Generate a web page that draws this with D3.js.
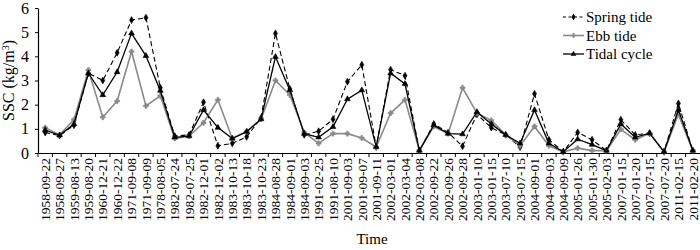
<!DOCTYPE html>
<html>
<head>
<meta charset="utf-8">
<script src="https://cdn.jsdelivr.net/npm/d3@7"></script>
<style>
  body { margin: 0; background: #fff; }
  svg text { font-family: "Liberation Serif", "Times New Roman", serif; fill: #000; }
</style>
</head>
<body>
<svg id="drawing_region"></svg>
<script>
const dates = ["1958-09-22","1958-09-27","1959-08-13","1959-08-20","1960-12-21","1960-12-22",
  "1971-09-08","1971-09-09","1978-08-05","1982-07-24","1982-07-25","1982-12-01","1982-12-02",
  "1983-10-13","1983-10-18","1983-10-23","1984-08-28","1984-09-01","1984-09-03","1991-02-25",
  "1991-08-10","2001-09-03","2001-09-07","2001-09-11","2002-03-01","2002-03-04","2002-03-08",
  "2002-09-22","2002-09-26","2002-09-28","2003-01-10","2003-01-15","2003-07-10","2003-07-15",
  "2004-09-01","2004-09-03","2004-09-09","2005-01-26","2005-01-30","2005-02-03","2007-01-15",
  "2007-01-20","2007-07-15","2007-07-20","2011-02-15","2011-02-20"];

const spring = [0.85,0.72,1.15,3.3,3.0,4.15,5.5,5.6,2.7,0.7,0.75,2.1,0.3,0.4,0.67,1.45,
  4.95,2.65,0.75,0.9,1.4,2.95,3.65,0.25,3.45,3.2,0.1,1.2,0.85,0.28,1.6,1.05,0.75,0.25,
  2.45,0.55,0.05,0.85,0.55,0.1,1.38,0.75,0.82,0.05,2.05,0.1];
const ebb = [1.05,0.75,1.38,3.43,1.48,2.15,4.2,1.95,2.37,0.6,0.7,1.25,2.2,0.6,0.9,1.4,
  3.0,2.4,0.85,0.4,0.8,0.8,0.62,0.25,1.65,2.2,0.1,1.1,0.8,2.7,1.65,1.35,0.75,0.3,
  1.1,0.3,0.05,0.2,0.1,0.1,0.98,0.55,0.82,0.05,1.6,0.1];
const tidal = [0.95,0.73,1.2,3.3,2.4,3.35,4.95,4.02,2.58,0.65,0.7,1.78,1.05,0.6,0.88,1.4,
  3.98,2.6,0.8,0.65,1.08,2.23,2.6,0.25,3.3,2.86,0.1,1.15,0.8,0.78,1.7,1.2,0.75,0.4,
  1.78,0.4,0.05,0.57,0.35,0.1,1.2,0.65,0.82,0.05,1.78,0.1];

const yTicks = [0,1,2,3,4,5,6];

const series = [
  { name: "Spring tide", values: spring, color: "#000", width: 1.1, dash: "5,3", symbol: d3.symbolDiamond, size: 14 },
  { name: "Ebb tide", values: ebb, color: "#8a8a8a", width: 1.6, dash: null, symbol: d3.symbolCross, size: 14 },
  { name: "Tidal cycle", values: tidal, color: "#000", width: 1.3, dash: null, symbol: d3.symbolTriangle, size: 14 }
];

const config = { width: 700, height: 250, left: 38, right: 700, top: 8, bottom: 153 };

const svg = d3.select("#drawing_region")
  .attr("width", config.width)
  .attr("height", config.height);

const xscale = d3.scaleBand()
  .domain(dates)
  .range([config.left, config.right])
  .padding(0);

const yscale = d3.scaleLinear()
  .domain([0, 6])
  .range([config.bottom, config.top]);

// x axis: labels at band centres, ticks at band edges
const xaxis_group = svg.append("g")
  .attr("transform", `translate(0, ${config.bottom})`)
  .call(d3.axisBottom(xscale).tickSize(0).tickSizeOuter(0));

xaxis_group.select(".domain").attr("stroke", "#000").attr("stroke-width", 1.2);

xaxis_group.selectAll("text")
  .attr("transform", "rotate(-90)")
  .attr("x", -5)
  .attr("y", 0)
  .attr("dy", "0.35em")
  .attr("text-anchor", "end")
  .attr("font-size", "13.5px");

svg.append("g")
  .selectAll("line")
  .data(dates)
  .join("line")
  .attr("x1", d => xscale(d))
  .attr("x2", d => xscale(d))
  .attr("y1", config.bottom)
  .attr("y2", config.bottom + 4)
  .attr("stroke", "#000")
  .attr("stroke-width", 1);

// y axis
const yaxis_group = svg.append("g")
  .attr("transform", `translate(${config.left}, 0)`)
  .call(d3.axisLeft(yscale).tickValues(yTicks).tickFormat(d3.format("d")).tickSize(3).tickSizeOuter(0));

yaxis_group.select(".domain").attr("stroke", "#000").attr("stroke-width", 1.2);
yaxis_group.selectAll("text").attr("font-size", "16px").attr("x", -9);

svg.append("text")
  .attr("transform", `translate(14, ${(config.top + config.bottom) / 2}) rotate(-90)`)
  .attr("text-anchor", "middle")
  .attr("font-size", "16px")
  .html('SSC (kg/m<tspan baseline-shift="super" font-size="10px">3</tspan>)');

svg.append("text")
  .attr("x", 372)
  .attr("y", 244)
  .attr("text-anchor", "middle")
  .attr("font-size", "15px")
  .text("Time");

// lines
const line = d3.line()
  .x((d, i) => xscale(dates[i]) + xscale.bandwidth() / 2)
  .y(d => yscale(d));

series.forEach(s => {
  svg.append("path")
    .datum(s.values)
    .attr("fill", "none")
    .attr("stroke", s.color)
    .attr("stroke-width", s.width)
    .attr("stroke-dasharray", s.dash)
    .attr("d", line);

  svg.append("g")
    .selectAll("path")
    .data(s.values)
    .join("path")
    .attr("transform", (d, i) => `translate(${xscale(dates[i]) + xscale.bandwidth() / 2}, ${yscale(d)})`)
    .attr("d", d3.symbol().type(s.symbol).size(s.size))
    .attr("fill", s.color)
    .attr("stroke", s.color)
    .attr("stroke-width", 0.6);
});

// legend
const legend = svg.append("g");
series.forEach((s, i) => {
  const y = 17 + i * 18.5;
  legend.append("line")
    .attr("x1", 563).attr("x2", 584)
    .attr("y1", y).attr("y2", y)
    .attr("stroke", s.color)
    .attr("stroke-width", s.width)
    .attr("stroke-dasharray", s.dash ? "3,2.5" : null);
  legend.append("path")
    .attr("transform", `translate(573.5, ${y})`)
    .attr("d", d3.symbol().type(s.symbol).size(s.size))
    .attr("fill", s.color);
  legend.append("text")
    .attr("x", 586)
    .attr("y", y + 5)
    .attr("font-size", "15px")
    .text(s.name);
});
</script>
</body>
</html>
